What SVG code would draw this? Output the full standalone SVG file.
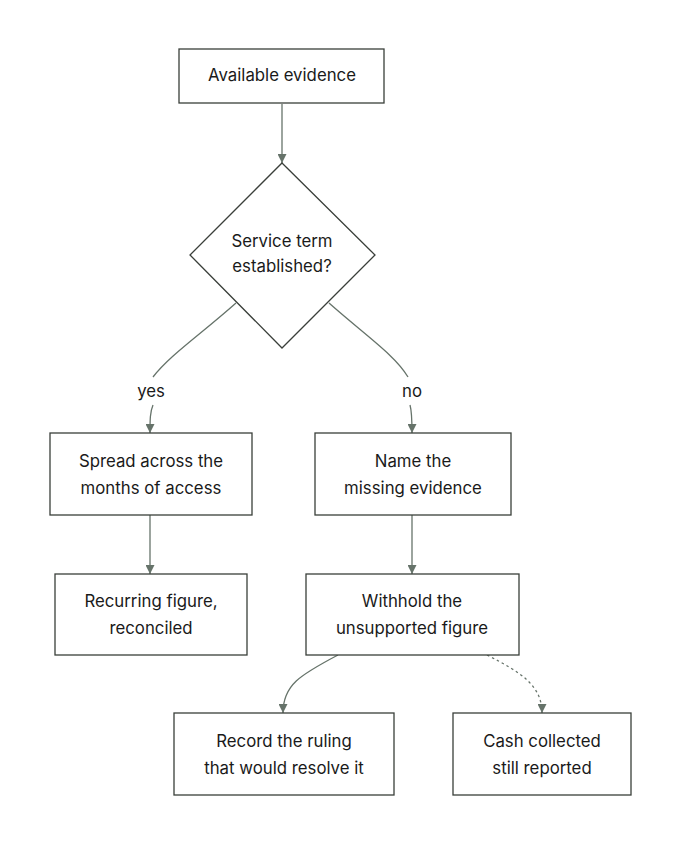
<svg xmlns="http://www.w3.org/2000/svg" width="680" height="846" viewBox="0 0 680 846">
<style>
.n{fill:#fff;stroke:#3a3f3a;stroke-width:1.3}
.t{font-family:Inter,"Liberation Sans",sans-serif;font-size:16.8px;fill:#1a1a1a;text-anchor:middle}
.c{fill:none;stroke:#66736a;stroke-width:1.3}
.d{stroke-dasharray:2.5 3}
</style>
<defs><marker id="a" viewBox="0 0 10 10" refX="10" refY="5" markerWidth="9" markerHeight="9" markerUnits="userSpaceOnUse" orient="auto"><path d="M0,0L10,5L0,10z" fill="#66736a"/></marker></defs>
<rect width="680" height="846" fill="#fff"/>
<g id="connectors">
<path class="c" d="M282,104V163" marker-end="url(#a)"/>
<path class="c" d="M236,303C200,335 170,355 153,377"/>
<path class="c" d="M153,405C150,412 150,420 150,433" marker-end="url(#a)"/>
<path class="c" d="M329,303C365,335 395,355 408,377"/>
<path class="c" d="M410,405C412,412 412,420 412,433" marker-end="url(#a)"/>
<path class="c" d="M150,515V574" marker-end="url(#a)"/>
<path class="c" d="M412,515V574" marker-end="url(#a)"/>
<path class="c" d="M338,655C300,675 283,685 283,713" marker-end="url(#a)"/>
<path class="c d" d="M487,655C520,672 542,685 542,713" marker-end="url(#a)"/>
<text class="t" x="151" y="397">yes</text>
<text class="t" x="412" y="397">no</text>
</g>
<g id="n1"><rect class="n" x="179" y="49" width="205" height="54"/><text class="t" x="282" y="81">Available evidence</text></g>
<g id="n2"><path class="n" d="M282,163L375,255L282,348L190,255Z"/><text class="t" x="282" y="247">Service term</text><text class="t" x="282" y="272">established?</text></g>
<g id="n3"><rect class="n" x="50" y="433" width="202" height="82"/><text class="t" x="151" y="467">Spread across the</text><text class="t" x="151" y="494">months of access</text></g>
<g id="n4"><rect class="n" x="315" y="433" width="196" height="82"/><text class="t" x="413" y="467">Name the</text><text class="t" x="413" y="494">missing evidence</text></g>
<g id="n5"><rect class="n" x="55" y="574" width="192" height="81"/><text class="t" x="151" y="607">Recurring figure,</text><text class="t" x="151" y="634">reconciled</text></g>
<g id="n6"><rect class="n" x="306" y="574" width="213" height="81"/><text class="t" x="412" y="607">Withhold the</text><text class="t" x="412" y="634">unsupported figure</text></g>
<g id="n7"><rect class="n" x="174" y="713" width="220" height="82"/><text class="t" x="284" y="747">Record the ruling</text><text class="t" x="284" y="774">that would resolve it</text></g>
<g id="n8"><rect class="n" x="453" y="713" width="178" height="82"/><text class="t" x="542" y="747">Cash collected</text><text class="t" x="542" y="774">still reported</text></g>
</svg>
